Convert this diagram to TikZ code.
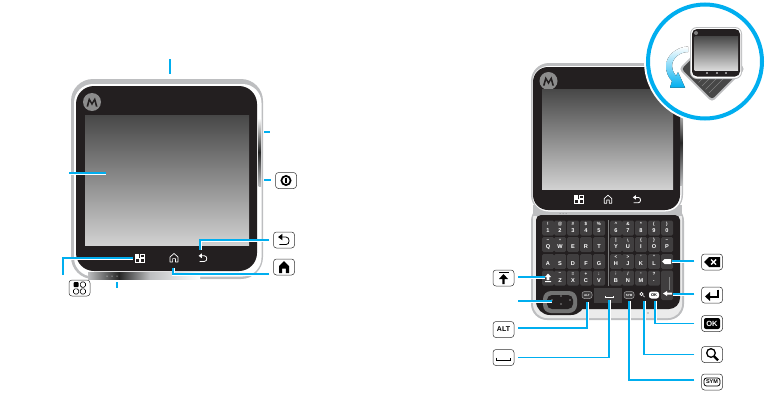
\documentclass[tikz,border=0pt]{standalone}
\usepackage{fontspec}
\setmainfont{Liberation Sans}
\usetikzlibrary{shapes.geometric,calc}
\definecolor{cy}{HTML}{00AEEF}
\definecolor{blk}{HTML}{231F20}
\definecolor{tile}{HTML}{403E3F}
\definecolor{silver}{HTML}{BDBEC0}
\tikzset{
 callout/.style={draw=cy,line width=1.3pt,preaction={draw=white,line width=3pt}},
 btn/.style={draw=black!80,line width=.5pt,fill=white,rounded corners=3pt,minimum width=21pt,minimum height=16pt,inner sep=0pt,font=\fontsize{8}{8}\selectfont\bfseries},
 keyl/.style={text=white,font=\fontsize{5.6}{5.6}\selectfont\bfseries,inner sep=0pt},
 keyt/.style={text=white,font=\fontsize{4.6}{4.6}\selectfont\bfseries,inner sep=0pt},
 pics/menuic/.style={code={
  \fill[#1] (-4.3,-4) rectangle (-.5,-.4);
  \draw[#1,line width=.6pt] (.5,-4) rectangle (4.3,-.4) (-4.3,.4) rectangle (-.5,4) (.5,.4) rectangle (4.3,4);}},
 pics/homeic/.style={code={
  \draw[#1,line width=.7pt,line join=round] (-4,4) -- (-4,-1) -- (0,-4.5) -- (4,-1) -- (4,4) -- (1.4,4) -- (1.4,.6) -- (-1.4,.6) -- (-1.4,4) -- cycle;}},
 pics/backic/.style={code={
  \fill[#1] (-4.4,-2.2) -- (-1.2,-4.6) -- (-1.2,.2) -- cycle;
  \draw[#1,line width=.8pt] (-1.5,-2.2) -- (1.5,-2.2) .. controls (4.5,-2.2) and (4.5,3.4) .. (1.5,3.4) -- (-3.5,3.4);}},
}
\newcommand\logo[2]{\fill[black!45] (#1,#2) circle (9);
 \fill[blk] ($(#1,#2)+(-5.5,4.5)$) -- ($(#1,#2)+(-3,-4.5)$) -- ($(#1,#2)+(0,.5)$) -- ($(#1,#2)+(3,-4.5)$) -- ($(#1,#2)+(5.5,4.5)$) -- ($(#1,#2)+(3.8,4.5)$) -- ($(#1,#2)+(2.4,-.8)$) -- ($(#1,#2)+(0,3.5)$) -- ($(#1,#2)+(-2.4,-.8)$) -- ($(#1,#2)+(-3.8,4.5)$) -- cycle;}
\begin{document}
\begin{tikzpicture}[x=1pt,y=-1pt]
\useasboundingbox (0,0) rectangle (782,407);
\clip (0,0) rectangle (782,407);
% ---------- left device
\fill[silver,rounded corners=22pt] (71,79) rectangle (263,279);
\fill[white,rounded corners=19pt] (74,84) rectangle (261.5,276.5);
\fill[top color=white,bottom color=silver,middle color=black!85] (258.5,118) rectangle (261,186);
\fill[left color=silver,right color=silver,middle color=black!85] (88,272) rectangle (150,279);
\fill[left color=silver,right color=white] (150,272) rectangle (200,279);
\fill[blk,rounded corners=18pt] (76,86) rectangle (257,271);
\logo{92}{102}
\fill[top color=black!72,bottom color=black!18] (85,115) rectangle (249,245);
\pic at (139.5,258) {menuic=white};
\pic at (174,258) {homeic=white};
\pic at (203,258) {backic=white};
\foreach \x in {107,112,117} \fill[white] (\x,276) circle (.5);
% left callouts
\coordinate (tTop) at (170,74); \coordinate (oTop) at (170,59);
\coordinate (tVol) at (264,132); \coordinate (oVol) at (270,132);
\coordinate (tPow) at (264,180);
\coordinate (tScr) at (106,173); \coordinate (oScr) at (69,173);
\coordinate (tBack) at (200,250);
\coordinate (tHome) at (173,268);
\coordinate (tMenu) at (133,258);
\coordinate (oMenu) at (63,275);
\coordinate (tMic) at (117,282); \coordinate (oMic) at (117,288);
\node[btn] (bPow) at (286,180.5) {};
\node[btn] (bBack) at (284,240) {};
\node[btn] (bHome) at (284,267) {};
\node[btn] (bMenu) at (79.5,288) {};
\draw[callout] (oTop) -- (tTop);
\draw[callout] (tVol) -- (oVol);
\draw[callout] (tPow) -- ([xshift=-4pt]bPow.west |- tPow);
\draw[callout] (oScr) -- (tScr);
\draw[callout] ([xshift=-4pt]bBack.west) -| (tBack);
\draw[callout] ([xshift=-4pt,yshift=-7pt]bHome.west) -| (tHome);
\draw[callout] (oMenu) |- (tMenu);
\draw[callout] (tMic) -- (oMic);
\draw[line width=1.7pt] (bPow) circle (4.6);
\draw[line width=1.3pt] ($(bPow)+(0,-3)$) -- ($(bPow)+(0,2.4)$);
\pic[scale=1.35] at (bBack) {backic=black};
\begin{scope}[shift={(bHome)}]
 \fill (-5,6) -- (-5,-1) -- (0,-6) -- (5,-1) -- (5,6) -- (1.8,6) -- (1.8,1.5) -- (-1.8,1.5) -- (-1.8,6) -- cycle;
\end{scope}
\begin{scope}[shift={(bMenu)}]
 \fill[rounded corners=1pt] (-6,-6) rectangle (-.8,-.8);
 \draw[line width=.6pt,rounded corners=1.5pt] (.8,-6) rectangle (6,-.8) (-6,.8) rectangle (-.8,6) (.8,.8) rectangle (6,6);
\end{scope}
% ---------- right device: slider
\fill[silver,rounded corners=16pt] (531,205) rectangle (684,320);
\fill[white!92!black,rounded corners=14pt] (533,205) rectangle (682,318);
\fill[silver] (533,205) rectangle (682,216);
\fill[blk,rounded corners=5pt] (536,215) rectangle (680,300);
\fill[blk,rounded corners=14pt] (536,280) rectangle (585,315);
\fill[blk,rounded corners=11pt] (570,285) rectangle (680,309);
\foreach \x/\t/\b in {548/!/1,560/@/2,573/\#/3,586/\$/4,599/\%/5,616/\^{}/6,628/\&/7,641/*/8,654/(/9,667/)/0}{
 \fill[tile,rounded corners=1.5pt] (\x-6,220.5) rectangle (\x+6,235.5);
 \node[keyt] (t\x a) at (\x,224) {\t}; \node[keyl] (k\x a) at (\x,231) {\b};}
\foreach \x/\t/\b in {548/\textasciitilde/Q,560/"/W,573//E,586//R,599//T,616/|/Y,628/\textbackslash/U,641/\{/I,654/\}/O,667/--/P}{
 \fill[tile,rounded corners=1.5pt] (\x-6,237) rectangle (\x+6,252);
 \node[keyt] (t\x b) at (\x,240.5) {\t}; \node[keyl] (k\x b) at (\x,247) {\b};}
\foreach \x/\t/\b in {548//A,560//S,573//D,586//F,599//G,616/</H,628/>/J,641/'/K,654/"/L}{
 \fill[tile,rounded corners=1.5pt] (\x-6,254) rectangle (\x+6,269);
 \node[keyt] (t\x c) at (\x,257) {\t}; \node[keyl] (k\x c) at (\x,264) {\b};}
\fill[tile,rounded corners=1.5pt] (661,254) rectangle (673,269);
\foreach \x/\t/\b in {560/--/Z,573/=/X,586/+/C,599/:/V,616/;/B,628/{/}/N,641/{,}/M,654/?/{.}}{
 \fill[tile,rounded corners=1.5pt] (\x-6,270.5) rectangle (\x+6,285.5);
 \node[keyt] (t\x d) at (\x,274) {\t}; \node[keyl] (k\x d) at (\x,281) {\b};}
\fill[tile,rounded corners=1.5pt] (542,270.5) rectangle (554,285.5);
\fill[tile,rounded corners=1.5pt] (661,270.5) rectangle (673,300);
\fill[white] (548,273.5) -- (545,277) -- (546.6,277) -- (546.6,280) -- (549.4,280) -- (549.4,277) -- (551,277) -- cycle (545,281) rectangle (551,282);
\fill[tile] (594,288) rectangle (622,303);
\draw[white,line width=.7pt] (605,296) -- (605,297.5) -- (613,297.5) -- (613,296);
\draw[gray,line width=.8pt] (608,220) -- (608,286);
\draw[gray,line width=.4pt] (669,277) -- (669,290);
% nav ring
\fill[black!55,rounded corners=8pt] (543,291) rectangle (577,313);
\fill[blk,rounded corners=5pt] (547,295) rectangle (573,309);
\foreach \p in {(561,296),(561,304),(552,300),(570,300)} \fill[white] \p circle (.6);
% bottom keys
\foreach \x/\t/\n in {587/ALT/a,629/SYM/s}{
 \draw[gray!70,line width=.5pt,fill=tile,rounded corners=2.5pt] (\x-5,291.5) rectangle (\x+5,298.5);
 \node[text=white,font=\fontsize{3}{3}\selectfont\bfseries,inner sep=0pt] (kb\n) at (\x,295) {\t};}
\fill[white,rounded corners=2.5pt] (649,291.5) rectangle (659,298.5);
\node[text=black,font=\fontsize{4}{4}\selectfont\bfseries,inner sep=0pt] (kbo) at (654,295) {OK};
\draw[white,line width=.7pt] (641.5,294) circle (1.7) (643,295.5) -- (644.5,297);
\fill[white] (672,292.5) -- (667,292.5) -- (667,291) -- (663,293.5) -- (667,296) -- (667,294.5) -- (672,294.5) -- cycle;
\fill[white] (671,259) -- (664.5,259) -- (662,261.5) -- (664.5,264) -- (671,264) -- cycle;
\fill[gray!70] (648,313) circle (.8);
\foreach \x in {560,563,566} \fill[gray] (\x,213.5) circle (.5);
% right device head
\fill[silver,rounded corners=18pt] (531,63) rectangle (683,213);
\fill[white,rounded corners=16pt] (532.5,66) rectangle (681.5,211.5);
\fill[top color=white,bottom color=silver,middle color=black!85] (680,100) rectangle (682.5,185);
\fill[blk,rounded corners=15pt] (533,67) rectangle (680,210);
\logo{548.5}{81}
\fill[top color=black!72,bottom color=black!18] (542,89) rectangle (673,189);
\pic at (578.5,199) {menuic=white};
\pic[scale=.95] at (608,199.5) {homeic=white};
\pic[scale=.95] at (637,199.5) {backic=white};
% inset
\fill[white] (705,61.5) circle (61);
\draw[cy,line width=4pt] (705,61.5) circle (57);
\begin{scope}[rotate around={45:(712,69)}]
 \fill[silver,rounded corners=4pt] (688.5,45.5) rectangle (735.5,92.5);
 \fill[black!72,rounded corners=3pt] (690.5,47.5) rectangle (733.5,90.5);
\end{scope}
\foreach \s in {13,16.5,...,30} \draw[gray,line width=.5pt] (682+\s,66+\s) -- (670+2*\s,78);
\fill[silver,rounded corners=7pt] (690,27) rectangle (742,79);
\fill[white,rounded corners=6pt] (691,28) rectangle (741,78);
\fill[blk,rounded corners=5pt] (692,29) rectangle (740,76.5);
\fill[top color=black!72,bottom color=black!15] (694.5,36) rectangle (738,70);
\fill[gray] (696,33) circle (2);
\foreach \x in {707,717,726} \fill[white] (\x,73) circle (.9);
\fill[top color=white,bottom color=cy] (688,46.5) .. controls (676,47) and (666,56) .. (666,66) .. controls (666,72) and (668,77) .. (672,81) -- (670,87.5) -- (685,87.5) -- (678,72) -- (676,76) .. controls (673,72) and (672,69) .. (672,66) .. controls (672,58) and (680,52) .. (688,52) -- cycle;
% ---------- right buttons
\node[btn] (bShift) at (503.5,278) {};
\node[btn] (bAlt) at (503.5,329.5) {\fontsize{7}{7}\selectfont ALT};
\node[btn] (bSpace) at (503.5,357.5) {};
\node[btn] (bBksp) at (712,262) {};
\node[btn] (bRet) at (712,295) {};
\node[btn] (bOK) at (712,323.5) {};
\node[btn] (bSrch) at (712,354.5) {};
\node[btn] (bSym) at (712,382) {};
\coordinate (tShift) at (545,277);
\coordinate (tNav) at (552,301); \coordinate (oNav) at (518,301);
\coordinate (tAlt) at (587,302);
\coordinate (tSpace) at (609,300);
\coordinate (tSym) at (629,301);
\coordinate (tSrch) at (644,301);
\coordinate (tOK) at (655,301);
\coordinate (tRet) at (673,294);
\coordinate (tBksp) at (672,261);
\draw[callout] ([xshift=4pt,yshift=1pt]bShift.east) -- (tShift);
\draw[callout] (oNav) -- (tNav);
\draw[callout] ([xshift=4pt,yshift=1.5pt]bAlt.east) -| (tAlt);
\draw[callout] ([xshift=4pt]bSpace.east) -| (tSpace);
\draw[callout] ([xshift=-7pt,yshift=2pt]bSym.west) -| (tSym);
\draw[callout] ([xshift=-7pt]bSrch.west) -| (tSrch);
\draw[callout] ([xshift=-7pt]bOK.west) -| (tOK);
\draw[callout] ([xshift=-7pt,yshift=1pt]bRet.west) -- (tRet);
\draw[callout] ([xshift=-7pt,yshift=1pt]bBksp.west) -- (tBksp);
\begin{scope}[shift={(bShift)}]
 \fill (-5,-6) rectangle (5,-5);
 \fill (0,-4) -- (-4.5,1) -- (-1.2,1) -- (-1.2,6) -- (1.2,6) -- (1.2,1) -- (4.5,1) -- cycle;
\end{scope}
\draw[line width=1.3pt] ($(bSpace)+(-7,0)$) -- ($(bSpace)+(-7,3)$) -- ($(bSpace)+(7,3)$) -- ($(bSpace)+(7,0)$);
\begin{scope}[shift={(bBksp)}]
 \fill (-8,0) -- (-3,-5) -- (8,-5) -- (8,5) -- (-3,5) -- cycle;
 \draw[white,line width=1.4pt] (-1,-2.5) -- (4,2.5) (-1,2.5) -- (4,-2.5);
\end{scope}
\begin{scope}[shift={(bRet)}]
 \draw[line width=2pt] (6,-5.5) -- (6,1.5) -- (-3,1.5);
 \fill (-7,1.5) -- (-2,-3) -- (-2,6) -- cycle;
\end{scope}
\node[fill=black,text=white,rounded corners=2pt,minimum width=16pt,minimum height=11pt,inner sep=0pt,font=\fontsize{7.5}{7.5}\selectfont\bfseries] (okLabel) at (bOK) {OK};
\begin{scope}[shift={(bSrch)}]
 \draw[line width=1.3pt] (-1,-1.5) circle (4.3);
 \draw[line width=2.2pt] (2,1.8) -- (6,5.8);
\end{scope}
\node[draw=black,line width=.8pt,rounded corners=2.5pt,minimum width=16pt,minimum height=8pt,inner sep=0pt,font=\fontsize{5.5}{5.5}\selectfont\bfseries] (symLabel) at (bSym) {SYM};
\end{tikzpicture}
\end{document}
